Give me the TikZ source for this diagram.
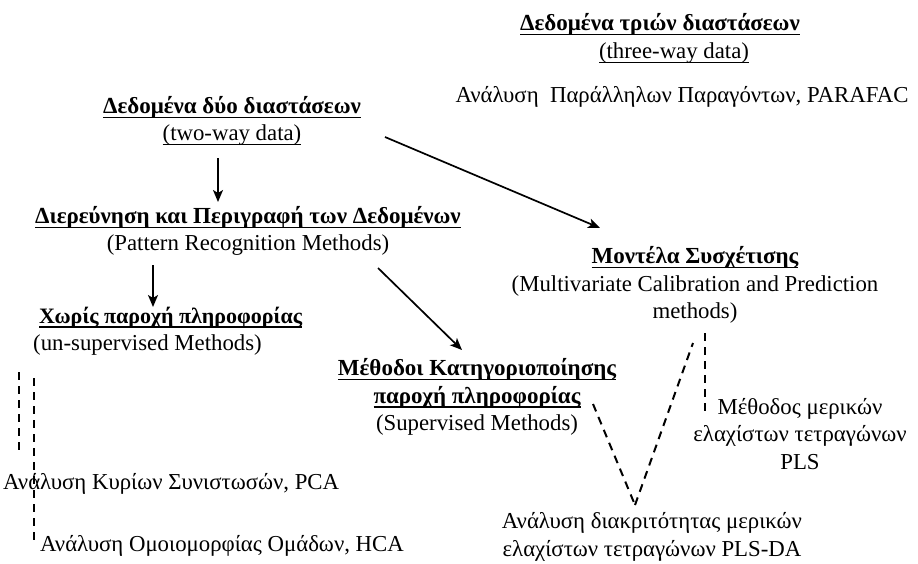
\documentclass[tikz,border=0pt]{standalone}
\usepackage{fontspec}
\setmainfont{Liberation Serif}
\usetikzlibrary{arrows.meta,calc}
% underline at a fixed depth below the baseline
\newcommand{\uln}[1]{\setbox0\hbox{#1}\rlap{\rule[-4.5pt]{\wd0}{1.2pt}}\box0}
\newcommand{\hd}[2][23]{\uln{\fontsize{#1}{27.5}\selectfont\bfseries #2}}
\begin{document}
\begin{tikzpicture}[x=1pt,y=-1pt,
  txt/.style={font=\fontsize{22.8}{27.5}\selectfont, align=center, inner sep=0pt},
  link/.style={line width=1.7pt, -{Stealth[length=12pt,width=10pt,inset=3pt]}},
  dashlink/.style={line width=2pt, dash pattern=on 8pt off 6pt}]
\useasboundingbox (0,0) rectangle (918,563);

% three-way branch
\node[txt] (three) at (660,38.5) {\hd{Δεδομένα τριών διαστάσεων}\\\hspace*{28pt}\uln{(three-way data)}};
\node[txt] (parafac) at (682,97) {Ανάλυση\ \ Παράλληλων Παραγόντων, PARAFAC};

% two-way branch
\node[txt] (two) at (232,121) {\hd{Δεδομένα δύο διαστάσεων}\\\uln{(two-way data)}};
\node[txt] (explore) at (248,231) {\hd{Διερεύνηση και Περιγραφή των Δεδομένων}\\(Pattern Recognition Methods)};
\node[txt, align=left, anchor=west] (unsup) at (33,331) {\hspace*{6pt}\hd[22]{Χωρίς παροχή πληροφορίας}\\(un-supervised Methods)};
\node[txt, anchor=west] (pca) at (3,484) {Ανάλυση Κυρίων Συνιστωσών, PCA};
\node[txt, anchor=west] (hca) at (40,546) {Ανάλυση Ομοιομορφίας Ομάδων, HCA};
\node[txt] (class) at (477,397) {\hd{Μέθοδοι Κατηγοριοποίησης}\\\hd{παροχή πληροφορίας}\\(Supervised Methods)};
\node[txt] (plsda) at (652,537) {Ανάλυση διακριτότητας μερικών\\ελαχίστων τετραγώνων PLS-DA};
\node[txt] (corr) at (695,285) {\hd{Μοντέλα Συσχέτισης}\\(Multivariate Calibration and Prediction\\methods)};
\node[txt] (pls) at (800,434) {Μέθοδος μερικών\\ελαχίστων τετραγώνων\\PLS};

% arrows
\draw[link] ($(two)+(-14,37)$) -- ($(explore)+(-30,-29)$);
\draw[link] ($(two)+(153,16)$) -- ($(corr)+(-95,-57)$);
\draw[link] ($(explore)+(-95,34)$) -- ($(unsup.west)+(120,-24)$);
\draw[link] ($(explore)+(130,37)$) -- ($(class)+(-15,-47)$);

% dashed links
\draw[dashlink] ($(unsup.west)+(-14,41)$) -- ($(pca.west)+(16,-32)$);
\draw[dashlink] ($(unsup.west)+(1,47)$) -- ($(hca.west)+(-6,-1)$);
\draw[dashlink] ($(class)+(116,7)$) -- ($(plsda)+(-17,-32)$);
\draw[dashlink] ($(plsda)+(-17,-32)$) -- ($(corr)+(-2,58)$);
\draw[dashlink] ($(corr)+(10,48)$) -- ($(pls)+(-95,-19)$);
\end{tikzpicture}
\end{document}
